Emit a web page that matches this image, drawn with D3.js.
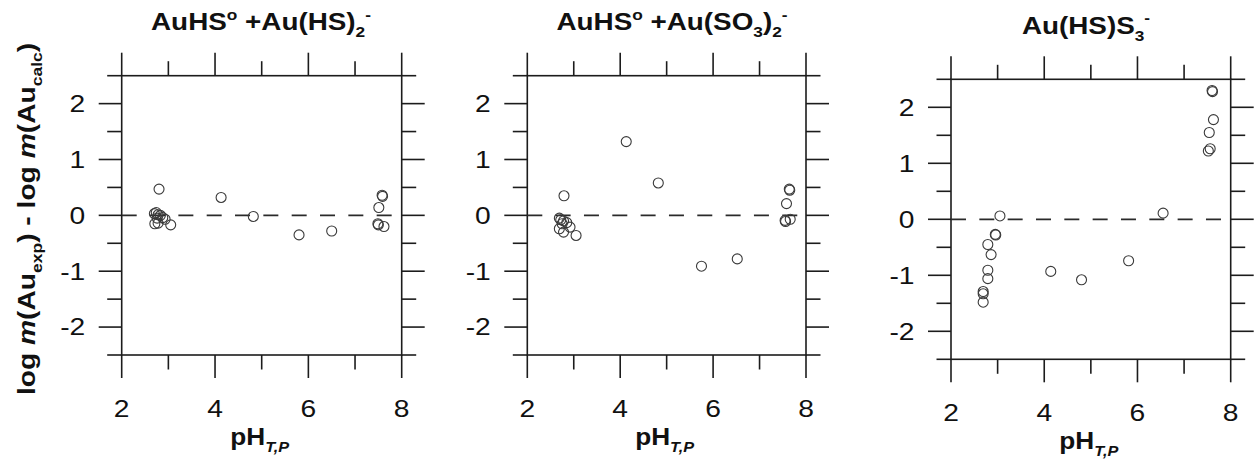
<!DOCTYPE html>
<html>
<head>
<meta charset="utf-8">
<script src="https://cdn.jsdelivr.net/npm/d3@7"></script>
<style>
  body { margin: 0; background: #fff; }
  svg { display: block; }
  text { font-family: "Liberation Sans", Arial, Helvetica, sans-serif; fill: #111; }
</style>
</head>
<body>
<svg id="chart" width="1258" height="461"></svg>
<script>
// Axis ticks
const phTicks = [2, 4, 6, 8];
const phMinor = [3, 5, 7];
const devTicks = [-2, -1, 0, 1, 2];
const devMinor = [-2.5, -1.5, -0.5, 0.5, 1.5, 2.5];

// Model 1: AuHS° + Au(HS)2-
const phA  = [2.80, 2.70, 2.74, 2.78, 2.83, 2.88, 2.93, 2.76, 2.71, 2.78, 3.05, 4.13, 4.82, 5.80, 6.50, 7.58, 7.59, 7.51, 7.49, 7.50, 7.62];
const devA = [0.47, 0.03, 0.05, 0.01, 0.00, -0.04, -0.07, -0.05, -0.15, -0.14, -0.17, 0.32, -0.02, -0.35, -0.28, 0.36, 0.34, 0.14, -0.15, -0.17, -0.20];

// Model 2: AuHS° + Au(SO3)2-
const phB  = [2.79, 2.69, 2.72, 2.78, 2.75, 2.85, 2.92, 2.69, 2.78, 3.05, 4.13, 4.82, 5.75, 6.52, 7.64, 7.65, 7.58, 7.55, 7.56, 7.66];
const devB = [0.35, -0.05, -0.08, -0.10, -0.15, -0.13, -0.21, -0.24, -0.30, -0.36, 1.32, 0.58, -0.91, -0.78, 0.47, 0.45, 0.21, -0.09, -0.11, -0.07];

// Model 3: Au(HS)S3-
const phC  = [3.05, 2.95, 2.96, 2.79, 2.86, 2.79, 2.79, 2.69, 2.69, 2.69, 4.14, 4.80, 5.81, 6.55, 7.60, 7.61, 7.63, 7.54, 7.56, 7.52];
const devC = [0.06, -0.27, -0.28, -0.45, -0.63, -0.91, -1.06, -1.29, -1.33, -1.48, -0.93, -1.08, -0.74, 0.11, 2.30, 2.28, 1.78, 1.55, 1.26, 1.22];

// Panel titles as [text, role] runs
const titleA = [["AuHS", ""], ["o", "sup"], [" +Au(HS)", ""], ["2", "sub"], ["-", "sup"]];
const titleB = [["AuHS", ""], ["o", "sup"], [" +Au(SO", ""], ["3", "sub"], [")", ""], ["2", "sub"], ["-", "sup"]];
const titleC = [["Au(HS)S", ""], ["3", "sub"], ["-", "sup"]];

const svg = d3.select("#chart");

const panels = [
  { ph: phA, dev: devA, title: titleA, left: 121.7, right: 401.7, top: 75.7, bottom: 355, titleX: 261, titleY: 30 },
  { ph: phB, dev: devB, title: titleB, left: 527.3, right: 806, top: 75.7, bottom: 355, titleX: 672, titleY: 30 },
  { ph: phC, dev: devC, title: titleC, left: 951, right: 1230.7, top: 79.3, bottom: 359.3, titleX: 1086, titleY: 33.5 }
];

const MAJOR = 23, MINOR = 14.5;
const INK = "#1c1c1c";

// Writes mixed normal / superscript / subscript runs into a text element
function writeRuns(textSel, runs, fs) {
  let shift = 0;
  runs.forEach(([str, role, style]) => {
    let target = 0, size = fs;
    if (role === "sup") { target = -0.42 * fs; size = fs * 0.62; }
    if (role === "sub") { target = 0.3 * fs; size = fs * 0.62; }
    const t = textSel.append("tspan")
      .attr("dy", target - shift)
      .attr("font-size", size)
      .text(str);
    if (style === "italic") t.attr("font-style", "italic");
    shift = target;
  });
}

panels.forEach(p => {
  const x = d3.scaleLinear().domain([2, 8]).range([p.left, p.right]);
  const y = d3.scaleLinear().domain([-2.5, 2.5]).range([p.bottom, p.top]);
  const g = svg.append("g");

  // frame
  g.append("rect")
    .attr("x", x(2)).attr("y", y(2.5))
    .attr("width", x(8) - x(2)).attr("height", y(-2.5) - y(2.5))
    .attr("fill", "none").attr("stroke", INK).attr("stroke-width", 1.6);

  // ticks on all four sides, pointing outward
  const xt = phTicks.map(v => ({ v, len: MAJOR })).concat(phMinor.map(v => ({ v, len: MINOR })));
  const yt = devTicks.map(v => ({ v, len: MAJOR })).concat(devMinor.map(v => ({ v, len: MINOR })));
  const tickStyle = s => s.attr("stroke", INK).attr("stroke-width", 1.6);

  g.selectAll(null).data(xt).join("line")
    .attr("x1", d => x(d.v)).attr("x2", d => x(d.v))
    .attr("y1", y(2.5)).attr("y2", d => y(2.5) - d.len).call(tickStyle);
  g.selectAll(null).data(xt).join("line")
    .attr("x1", d => x(d.v)).attr("x2", d => x(d.v))
    .attr("y1", y(-2.5)).attr("y2", d => y(-2.5) + d.len).call(tickStyle);
  g.selectAll(null).data(yt).join("line")
    .attr("y1", d => y(d.v)).attr("y2", d => y(d.v))
    .attr("x1", x(2)).attr("x2", d => x(2) - d.len).call(tickStyle);
  g.selectAll(null).data(yt).join("line")
    .attr("y1", d => y(d.v)).attr("y2", d => y(d.v))
    .attr("x1", x(8)).attr("x2", d => x(8) + d.len).call(tickStyle);

  // tick labels
  g.selectAll(null).data(phTicks).join("g")
    .attr("transform", d => `translate(${x(d)},${y(-2.5) + 61.7}) scale(1.2,1)`)
    .append("text").attr("text-anchor", "middle").attr("font-size", 23.5).text(d => d);
  g.selectAll(null).data(devTicks).join("g")
    .attr("transform", d => `translate(${x(2) - 36.5},${y(d) + 8.4}) scale(1.2,1)`)
    .append("text").attr("text-anchor", "end").attr("font-size", 23.5).text(d => d);

  // zero reference line
  g.append("line")
    .attr("x1", x(2)).attr("x2", x(8)).attr("y1", y(0)).attr("y2", y(0))
    .attr("stroke", "#2a2a2a").attr("stroke-width", 1.7)
    .attr("stroke-dasharray", "15 13.33");

  // measurements
  g.selectAll(null).data(p.ph.map((v, i) => [v, p.dev[i]])).join("circle")
    .attr("cx", d => x(d[0])).attr("cy", d => y(d[1])).attr("r", 5)
    .attr("fill", "none").attr("stroke", "#3a3a3a").attr("stroke-width", 1.1);

  // title
  const tt = g.append("g").attr("transform", `translate(${p.titleX},${p.titleY}) scale(1.16,1)`)
    .append("text").attr("text-anchor", "middle").attr("font-weight", "bold");
  writeRuns(tt, p.title, 24);

  // x axis title
  const xl = g.append("g")
    .attr("transform", `translate(${(x(2) + x(8)) / 2 - 2},${y(-2.5) + 90}) scale(1.14,1)`)
    .append("text").attr("text-anchor", "middle").attr("font-weight", "bold");
  writeRuns(xl, [["pH", ""], ["T,P", "sub", "italic"]], 23);
});

// shared y axis title
const yl = svg.append("g").attr("transform", "translate(35,219) rotate(-90) scale(1.2,1)")
  .append("text").attr("text-anchor", "middle").attr("font-weight", "bold");
writeRuns(yl, [["log ", ""], ["m", "", "italic"], ["(Au", ""], ["exp", "sub"], [") - log ", ""],
               ["m", "", "italic"], ["(Au", ""], ["calc", "sub"], [")", ""]], 23.5);
</script>
</body>
</html>
